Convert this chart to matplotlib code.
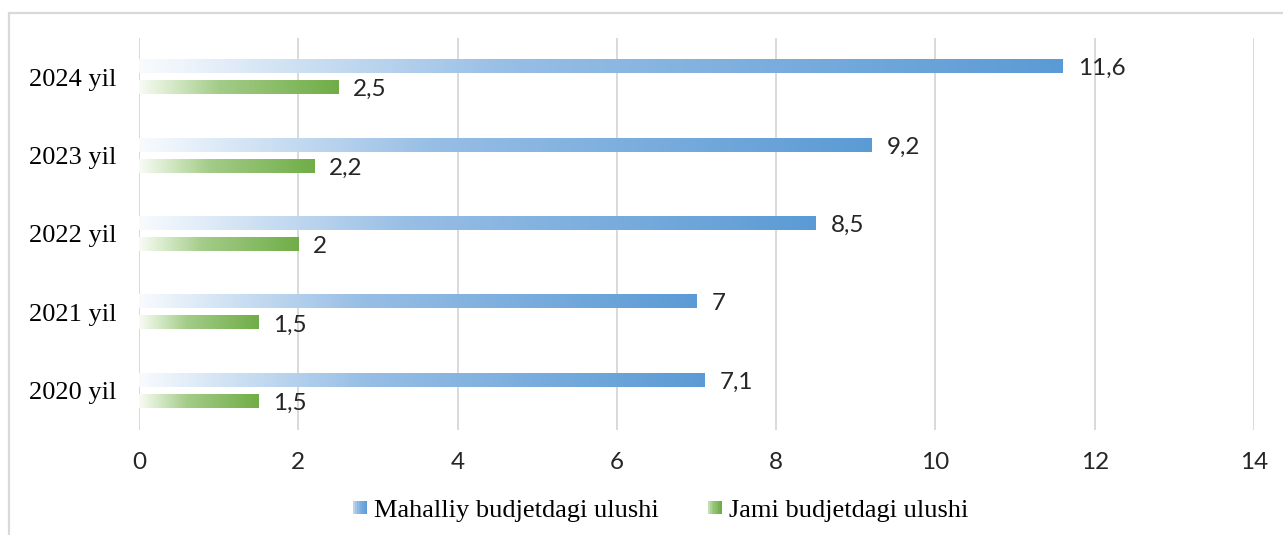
import numpy as np
import matplotlib
matplotlib.use("Agg")
import matplotlib.pyplot as plt
from matplotlib.colors import LinearSegmentedColormap
from matplotlib.patches import Rectangle
from matplotlib.legend_handler import HandlerBase

# data
years = ["2020 yil", "2021 yil", "2022 yil", "2023 yil", "2024 yil"]
mahalliy = [7.1, 7.0, 8.5, 9.2, 11.6]
jami = [1.5, 1.5, 2.0, 2.2, 2.5]
series_names = ["Mahalliy budjetdagi ulushi", "Jami budjetdagi ulushi"]

blue_cmap = LinearSegmentedColormap.from_list(
    "blue_grad", [(0, "#f8fbfe"), (0.15, "#d2e3f4"), (0.4, "#97bee5"), (1, "#5b9bd5")])
green_cmap = LinearSegmentedColormap.from_list(
    "green_grad", [(0, "#f8fbf5"), (0.15, "#d8ebcb"), (0.4, "#a3cc88"), (1, "#70ad47")])


class HandlerGradient(HandlerBase):
    """Small gradient square for the legend."""
    def __init__(self, cmap):
        super().__init__()
        self.cmap = cmap

    def create_artists(self, legend, orig_handle, xdescent, ydescent,
                       width, height, fontsize, trans):
        n = 8
        side = height * 0.75
        x0 = -xdescent + width - side
        y0 = -ydescent + (height - side) / 2
        arts = []
        for i in range(n):
            r = Rectangle((x0 + i * side / n, y0), side / n * 1.05, side,
                          facecolor=self.cmap(0.25 + 0.75 * i / (n - 1)),
                          edgecolor="none", transform=trans)
            arts.append(r)
        return arts


fig = plt.figure(figsize=(12.83, 5.35), dpi=100)
ax = fig.add_axes([0.1083, 0.1963, 0.8691, 0.7327])

# outer chart frame
fig.patches.append(Rectangle((9 / 1283, -0.05), 1.1, 1 - 13 / 535 + 0.05,
                             transform=fig.transFigure, fill=False,
                             edgecolor="#d9d9d9", linewidth=1.6))

y = np.arange(len(years))
off = 0.135
h = 0.166
bars_b = ax.barh(y + off, mahalliy, height=h, color="none", edgecolor="none")
bars_g = ax.barh(y - off, jami, height=h, color="none", edgecolor="none")

grad = np.linspace(0, 1, 256).reshape(1, -1)
for bars, cmap in ((bars_b, blue_cmap), (bars_g, green_cmap)):
    for r in bars:
        x0, y0, w, hh = r.get_x(), r.get_y(), r.get_width(), r.get_height()
        ax.imshow(grad, cmap=cmap, extent=[x0, x0 + w, y0, y0 + hh],
                  aspect="auto", interpolation="bilinear", zorder=3)

for bars, vals in ((bars_b, mahalliy), (bars_g, jami)):
    for r, v in zip(bars, vals):
        txt = f"{v:g}".replace(".", ",")
        ax.annotate(txt, (r.get_width(), r.get_y() + r.get_height() / 2),
                    xytext=(15, -2), textcoords="offset pixels",
                    ha="left", va="center", fontsize=17.5, family="Lato",
                    color="#262626", zorder=4)

ax.set_xlim(0, 14)
ax.set_ylim(-0.5, len(years) - 0.5)
ax.set_xticks(np.arange(0, 15, 2))
ax.set_yticks(y)
ax.set_yticklabels(years, family="Liberation Serif", fontsize=19, color="black")
for lab in ax.get_xticklabels():
    lab.set_family("Lato")
    lab.set_fontsize(17.5)
    lab.set_color("#262626")
ax.tick_params(axis="x", length=0, pad=16)
ax.tick_params(axis="y", length=0, pad=16)
ax.grid(axis="x", color="#d9d9d9", linewidth=1.4, zorder=0)
ax.set_axisbelow(True)
for s in ax.spines.values():
    s.set_visible(False)

handles = [Rectangle((0, 0), 1, 1), Rectangle((0, 0), 1, 1)]
leg = fig.legend(handles, series_names, loc="center", ncol=2,
                 bbox_to_anchor=(661 / 1283, 1 - 510 / 535), frameon=False,
                 prop={"family": "Liberation Serif", "size": 19},
                 handler_map={handles[0]: HandlerGradient(blue_cmap),
                              handles[1]: HandlerGradient(green_cmap)},
                 handlelength=0.5, handletextpad=0.25, columnspacing=1.9)

fig.savefig("out.png", dpi=100)
